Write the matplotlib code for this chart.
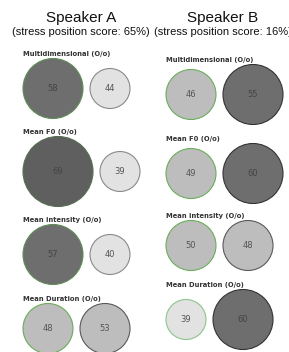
import matplotlib
matplotlib.use("Agg")
import matplotlib.pyplot as plt
from matplotlib.patches import Circle

# ------------------------------
# Data
# ------------------------------
speakers = ["Speaker A", "Speaker B"]
stress_scores = [65, 16]
features = ["Multidimensional (O/o)", "Mean F0 (O/o)",
            "Mean intensity (O/o)", "Mean Duration (O/o)"]
a_first = [58, 69, 57, 48]
a_second = [44, 39, 40, 53]
b_first = [46, 49, 50, 39]
b_second = [55, 60, 48, 60]

pairs = [(a_first, a_second), (b_first, b_second)]

# ------------------------------
# Layout (pixel units)
# ------------------------------
W, H = 289, 352
col_left = [23, 166]
col_center = [81, 223]
label_y = [[54, 132, 220, 299], [60, 139, 216, 285]]
gap = 7

fills = {4: "#e2e2e2", 5: "#bdbdbd", 6: "#6e6e6e", 7: "#5f5f5f"}
greens = {4: "#8cc58a", 5: "#6aad5c", 6: "#5e8f55", 7: "#566f52"}
greys = {4: "#8a8a8a", 5: "#5a5a5a", 6: "#333333", 7: "#333333"}


def radius(v):
    return 5 * round(v / 10)


fig = plt.figure(figsize=(W / 100, H / 100), dpi=100)
ax = fig.add_axes([0, 0, 1, 1])
ax.set_xlim(0, W)
ax.set_ylim(H, 0)
ax.set_aspect("equal")
ax.axis("off")

for c, (first, second) in enumerate(pairs):
    ax.text(col_center[c], 18, speakers[c], ha="center", va="center",
            fontsize=11, family="Liberation Sans", color="#111111")
    ax.text(col_center[c], 32, f"(stress position score: {stress_scores[c]}%)",
            ha="center", va="center", fontsize=8, family="Liberation Sans",
            color="#111111")
    for i, feat in enumerate(features):
        ly = label_y[c][i]
        ax.text(col_left[c], ly, feat, ha="left", va="center", fontsize=4.9,
                fontweight="bold", family="DejaVu Sans", color="#333333")
        r1, r2 = radius(first[i]), radius(second[i])
        cy = ly + 4.5 + max(r1, r2)
        x1 = col_left[c] + r1
        x2 = col_left[c] + 2 * r1 + gap + r2
        for x, v, r, edges in [(x1, first[i], r1, greens), (x2, second[i], r2, greys)]:
            k = r // 5
            ax.add_patch(Circle((x, cy), r, facecolor=fills[k],
                                edgecolor=edges[k], linewidth=0.8))
            ax.text(x, cy, str(v), ha="center", va="center", fontsize=6,
                    family="DejaVu Sans", color="#555555" if k < 6 else "#444444")

plt.savefig("out.png", dpi=100)
